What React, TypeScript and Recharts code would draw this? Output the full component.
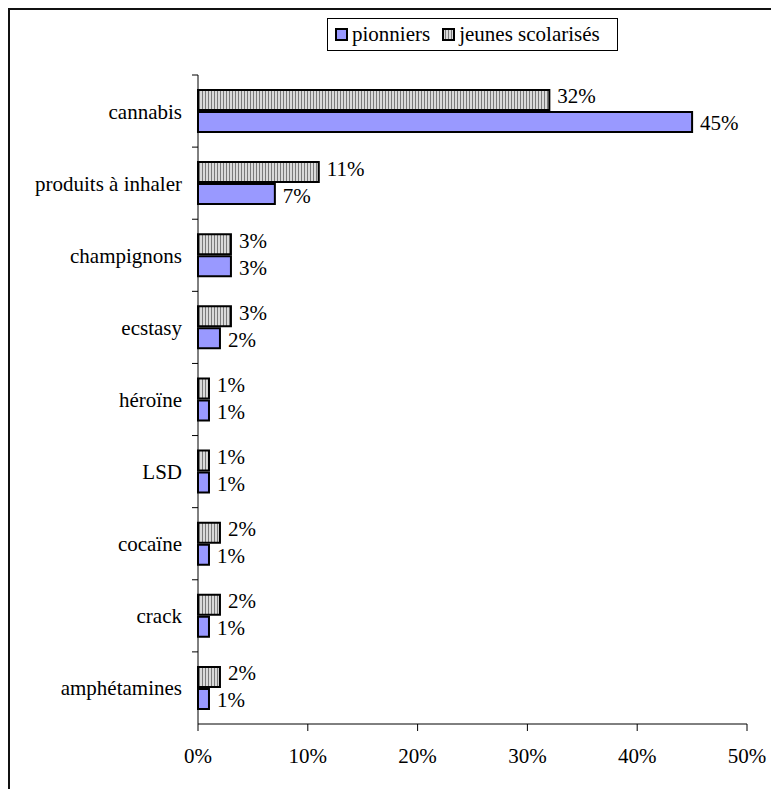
import { Bar, BarChart, LabelList, XAxis, YAxis } from "recharts";

const categories = [
  "cannabis",
  "produits à inhaler",
  "champignons",
  "ecstasy",
  "héroïne",
  "LSD",
  "cocaïne",
  "crack",
  "amphétamines",
];
const pionniers = [45, 7, 3, 2, 1, 1, 1, 1, 1];
const jeunesScolarises = [32, 11, 3, 3, 1, 1, 2, 2, 2];
const xTicks = [0, 10, 20, 30, 40, 50];

const data = categories.map((name, i) => ({
  name,
  pionniers: pionniers[i],
  jeunes: jeunesScolarises[i],
}));

const FONT = "'Liberation Serif', 'Times New Roman', Times, serif";
const FS = 21;
const BLUE = "#9999ff";

function CategoryTick(props: any) {
  const { x, y, payload } = props;
  const band = 649 / categories.length;
  const axisX = x + 16;
  return (
    <g>
      <line x1={axisX - 6} x2={axisX} y1={y - band / 2} y2={y - band / 2} stroke="#000" />
      <text x={x} y={y} dy="0.355em" textAnchor="end" style={{ fontFamily: FONT }} fontSize={FS} fill="#000">
        {payload.value}
      </text>
    </g>
  );
}

function valueLabel(dy: number) {
  return (props: any) => {
    const { x, y, width, height, value } = props;
    return (
      <text
        x={x + width + 8}
        y={y + height / 2 + dy}
        dy="0.355em"
        style={{ fontFamily: FONT }}
        fontSize={FS}
        fill="#000"
      >
        {value}%
      </text>
    );
  };
}

function Swatch({ fill }: { fill: string }) {
  return (
    <svg width={13} height={13} style={{ display: "block" }}>
      <rect x={1} y={1} width={11} height={11} fill={fill} stroke="#000" strokeWidth={2} />
    </svg>
  );
}

export default function App() {
  return (
    <div
      style={{
        position: "relative",
        width: 771,
        height: 781,
        borderTop: "2px solid #111",
        borderLeft: "2px solid #111",
        boxSizing: "border-box",
        fontFamily: FONT,
      }}
    >
      <svg width={0} height={0} style={{ position: "absolute" }}>
        <defs>
          <pattern id="vstripes" width={3} height={10} patternUnits="userSpaceOnUse">
            <rect x={0} y={0} width={3} height={10} fill="#dadada" />
            <rect x={0} y={0} width={1} height={10} fill="#7a7a7a" />
          </pattern>
        </defs>
      </svg>
      <div
        style={{
          position: "absolute",
          left: 317,
          top: 8,
          width: 291,
          height: 33,
          border: "1px solid #000",
          boxSizing: "border-box",
          display: "flex",
          alignItems: "center",
          paddingLeft: 7,
          fontSize: FS,
          fontFamily: FONT,
          color: "#000",
          background: "#fff",
          whiteSpace: "nowrap",
        }}
      >
        <Swatch fill={BLUE} />
        <span style={{ marginLeft: 4, marginRight: 12 }}>pionniers</span>
        <Swatch fill="url(#vstripes)" />
        <span style={{ marginLeft: 4 }}>jeunes scolarisés</span>
      </div>
      <BarChart
        width={769}
        height={779}
        data={data}
        layout="vertical"
        margin={{ top: 65, right: 32, left: 0, bottom: 25 }}
        barSize={20}
        barGap={2}
        style={{ fontFamily: FONT }}
      >
        <XAxis
          type="number"
          domain={[0, 50]}
          ticks={xTicks}
          tickFormatter={(v) => `${v}%`}
          height={40}
          tickSize={7}
          tickMargin={17}
          axisLine={{ stroke: "#000" }}
          tickLine={{ stroke: "#000" }}
          tick={{ fill: "#000", fontSize: FS, style: { fontFamily: FONT } }}
          interval={0}
        />
        <YAxis
          type="category"
          dataKey="name"
          width={188}
          tickSize={0}
          tickMargin={16}
          axisLine={{ stroke: "#000" }}
          tick={<CategoryTick />}
          interval={0}
        />
        <Bar dataKey="jeunes" fill="url(#vstripes)" stroke="#000" strokeWidth={2} isAnimationActive={false}>
          <LabelList dataKey="jeunes" content={valueLabel(-4)} />
        </Bar>
        <Bar dataKey="pionniers" fill={BLUE} stroke="#000" strokeWidth={2} isAnimationActive={false}>
          <LabelList dataKey="pionniers" content={valueLabel(1)} />
        </Bar>
      </BarChart>
    </div>
  );
}
